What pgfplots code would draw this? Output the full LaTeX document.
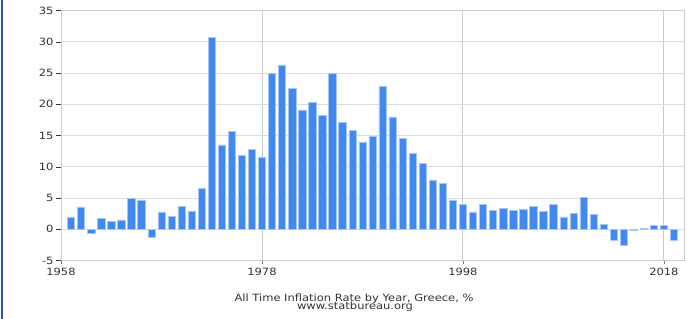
\documentclass[border=0pt]{standalone}
\usepackage{pgfplots}
\pgfplotsset{compat=1.18}
\usepackage{fontspec}
\setmainfont{DejaVu Sans}[FakeStretch=1.15]
\definecolor{barblue}{HTML}{4189EE}
\definecolor{baredge}{HTML}{A6C6F6}
\definecolor{gridgray}{HTML}{DCDCDC}
\definecolor{vgray}{HTML}{CCCCCC}
\definecolor{leftblue}{HTML}{2F55A4}
\definecolor{txt}{HTML}{333333}
\begin{document}
\begin{tikzpicture}
\path[use as bounding box] (0,0) rectangle (687bp,319bp);
\fill[leftblue] (0.6bp,0) rectangle (3bp,319bp);
\begin{axis}[
  at={(61bp,58.5bp)}, anchor=south west,
  scale only axis, width=623bp, height=250bp,
  xmin=1958, xmax=2020, ymin=-5, ymax=35,
  ytick={-5,0,5,10,15,20,25,30,35},
  xtick={1958,1978,1998,2018},
  ytick pos=left, xtick pos=bottom,
  tick align=outside,
  major tick length=5bp,
  xtick style={/pgfplots/major tick length=3bp, vgray!60!black},
  ytick style={txt},
  ymajorgrids, xmajorgrids,
  y grid style={gridgray, line width=0.9pt},
  x grid style={vgray, line width=0.9pt},
  axis line style={vgray, line width=0.9pt},
  /pgf/number format/assume math mode=true,
  /pgf/number format/1000 sep={},
  tick label style={font=\fontsize{10bp}{12bp}\selectfont, text=txt},
  yticklabel style={xshift=1bp},
  xticklabel style={yshift=1bp},
  ybar, bar width=7.3bp,
]
\addplot[fill=barblue, draw=baredge, line width=0.5bp] coordinates {
(1959,1.9) (1960,3.6) (1961,-0.7) (1962,1.8) (1963,1.3) (1964,1.5)
(1965,4.9) (1966,4.7) (1967,-1.3) (1968,2.8) (1969,2.1) (1970,3.7)
(1971,2.9) (1972,6.6) (1973,30.7) (1974,13.5) (1975,15.7) (1976,11.8)
(1977,12.8) (1978,11.6) (1979,24.9) (1980,26.3) (1981,22.5) (1982,19.1)
(1983,20.3) (1984,18.2) (1985,24.9) (1986,17.1) (1987,15.8) (1988,14.0)
(1989,14.9) (1990,22.9) (1991,18.0) (1992,14.5) (1993,12.1) (1994,10.6)
(1995,7.9) (1996,7.4) (1997,4.7) (1998,4.0) (1999,2.8) (2000,4.0)
(2001,3.0) (2002,3.4) (2003,3.0) (2004,3.2) (2005,3.7) (2006,2.9)
(2007,4.0) (2008,2.0) (2009,2.6) (2010,5.1) (2011,2.4) (2012,0.8)
(2013,-1.7) (2014,-2.6) (2015,-0.1) (2016,0.1) (2017,0.6) (2018,0.6)
(2019,-1.7)
};
\end{axis}
\node[anchor=base, text=txt, font=\fontsize{10bp}{12bp}\selectfont, inner sep=0pt] at (354bp,17.8bp) {All Time Inflation Rate by Year, Greece, \%};
\node[anchor=base, text=txt, font=\fontsize{10bp}{12bp}\selectfont, inner sep=0pt] at (355bp,9.2bp) {www.statbureau.org};
\end{tikzpicture}
\end{document}
